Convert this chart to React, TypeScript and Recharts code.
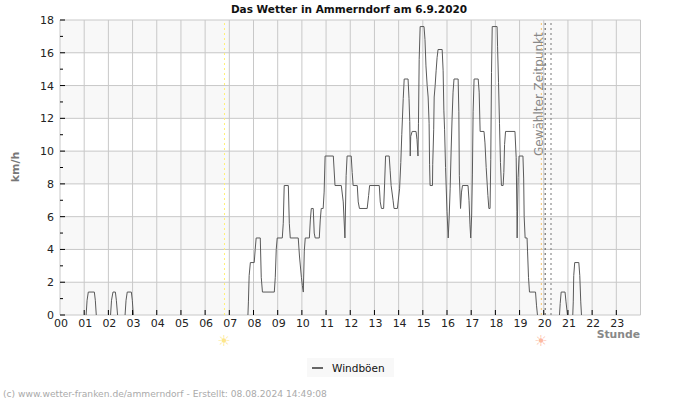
import * as React from "react";
import {
  CartesianGrid,
  Legend,
  Line,
  LineChart,
  ReferenceLine,
  XAxis,
  YAxis,
} from "recharts";

// gust readings by time of day, null splits the calm stretches
const gustHours = [
  1.08, 1.12, 1.17, 1.42, 1.46, 1.5, 1.8,
  2.09, 2.13, 2.19, 2.29, 2.33, 2.38, 2.5,
  2.69, 2.73, 2.78, 2.95, 2.99, 3.03, 5,
  7.77, 7.79, 7.82, 7.87, 8.03, 8.07, 8.11, 8.28, 8.32, 8.37, 8.86, 8.9, 8.94, 8.98,
  9.19, 9.23, 9.27, 9.44, 9.48, 9.52, 9.85, 9.9, 9.98, 10.02, 10.06, 10.1, 10.14,
  10.31, 10.35, 10.39, 10.47, 10.51, 10.55, 10.72, 10.76, 10.8, 10.88, 10.92, 10.96,
  11.3, 11.37, 11.63, 11.71, 11.78, 11.83, 11.87, 12.04, 12.08, 12.12, 12.29, 12.33, 12.38,
  12.7, 12.76, 12.8, 13.2, 13.24, 13.29, 13.38, 13.42, 13.46, 13.61, 13.65, 13.69, 13.77, 13.81,
  13.95, 14.0, 14.04, 14.09, 14.13, 14.19, 14.23, 14.39, 14.43, 14.46, 14.48, 14.5, 14.56,
  14.72, 14.76, 14.8, 14.82, 14.85, 14.89, 15.05, 15.09, 15.13, 15.18, 15.22, 15.26, 15.28, 15.3,
  15.4, 15.41, 15.45, 15.47, 15.51, 15.55, 15.59, 15.63, 15.8, 15.84, 15.87, 15.9, 15.94, 16.0, 16.05,
  16.09, 16.13, 16.17, 16.21, 16.25, 16.29, 16.46, 16.49, 16.51, 16.56, 16.6, 16.64,
  16.87, 16.91, 16.95, 16.98, 17.02, 17.05, 17.08, 17.12, 17.29, 17.33, 17.37,
  17.53, 17.57, 17.62, 17.69, 17.73, 17.78, 17.81, 17.84, 17.87, 18.07, 18.09, 18.13, 18.17, 18.21, 18.25,
  18.32, 18.35, 18.38, 18.42, 18.81, 18.86, 18.89, 18.9, 18.94, 18.98, 19.14, 19.17, 19.19, 19.23,
  19.31, 19.33, 19.37, 19.41, 19.66, 19.7, 19.74, 20.2,
  20.65, 20.68, 20.72, 20.88, 20.92, 20.98, 21.1,
  21.2, 21.22, 21.24, 21.28, 21.45, 21.49, 21.53, 21.56,
];
const gustValues = [
  0, 0.9, 1.4, 1.4, 0.9, 0, null,
  0, 0.9, 1.4, 1.4, 0.9, 0, null,
  0, 0.9, 1.4, 1.4, 0.9, 0, null,
  0, 0.8, 2.4, 3.2, 3.2, 4.0, 4.7, 4.7, 2.3, 1.4, 1.4, 2.3, 4.0, 4.7,
  4.7, 5.6, 7.9, 7.9, 5.6, 4.7, 4.7, 3.6, 2.3, 1.8, 1.4, 3.9, 4.7,
  4.7, 5.8, 6.5, 6.5, 5.0, 4.7, 4.7, 5.8, 6.5, 6.5, 7.5, 9.7,
  9.7, 7.9, 7.9, 6.9, 4.7, 8.5, 9.7, 9.7, 8.7, 7.9, 7.9, 6.9, 6.5,
  6.5, 7.3, 7.9, 7.9, 6.9, 6.5, 6.5, 8.0, 9.7, 9.7, 8.8, 7.9, 7.0, 6.5,
  6.5, 7.2, 7.7, 9.3, 11.0, 13.2, 14.4, 14.4, 13.2, 11.8, 9.7, 10.9, 11.2,
  11.2, 10.7, 9.7, 11.7, 15.6, 17.6, 17.6, 16.8, 15.2, 14.0, 13.3, 11.7, 9.2, 7.9,
  7.9, 9.2, 11.3, 13.3, 14.0, 14.9, 15.7, 16.2, 16.2, 14.9, 12.5, 11.3, 9.0, 6.3, 4.7,
  6.0, 7.7, 10.0, 12.0, 13.6, 14.4, 14.4, 12.4, 8.5, 6.5, 7.5, 7.9,
  7.9, 7.0, 5.5, 4.7, 6.1, 8.6, 12.4, 14.4, 14.4, 13.6, 11.2,
  11.2, 10.5, 9.0, 7.3, 6.5, 6.5, 9.5, 14.8, 17.6, 17.6, 16.4, 14.2, 11.7, 9.3, 7.9,
  7.9, 8.7, 10.4, 11.2, 11.2, 9.6, 6.3, 4.7, 8.4, 9.7, 9.7, 8.3, 6.0, 4.7,
  4.7, 3.9, 2.3, 1.4, 1.4, 0.6, 0, null,
  0, 0.7, 1.4, 1.4, 0.8, 0, null,
  0, 0.8, 2.4, 3.2, 3.2, 2.4, 0.8, 0,
];

const hourTicks = [0, 1, 2, 3, 4, 5, 6, 7, 8, 9, 10, 11, 12, 13, 14, 15, 16, 17, 18, 19, 20, 21, 22, 23];
const gridHours = [...hourTicks, 24];
const speedTicks = [0, 1, 2, 3, 4, 5, 6, 7, 8, 9, 10, 11, 12, 13, 14, 15, 16, 17, 18];
const gridSpeeds = [0, 2, 4, 6, 8, 10, 12, 14, 16, 18];

const sunrise = 6.8;
const sunset = 19.9;
const selectedFrom = 20.06;
const selectedTo = 20.3;

const tableData = gustHours.map((hour, i) => ({ hour, gust: gustValues[i] }));

const font = "'DejaVu Sans', sans-serif";

function HourTick({ x, y, payload }: any) {
  return (
    <g>
      {payload.value > 0 && <line x1={x} x2={x} y1={y - 5} y2={y} stroke="#000" />}
      <text x={x + 1} y={y + 12} textAnchor="middle" fontSize={11} fontFamily={font} fill="#222">
        {String(payload.value).padStart(2, "0")}
      </text>
    </g>
  );
}

function SpeedTick({ x, y, payload }: any) {
  const even = payload.value % 2 === 0;
  return (
    <g>
      <line x1={x} x2={x + (even ? 5 : 3)} y1={y} y2={y} stroke="#000" />
      {even && (
        <text x={x - 6} y={y + 4} textAnchor="end" fontSize={11} fontFamily={font} fill="#222">
          {payload.value}
        </text>
      )}
    </g>
  );
}

function GustLegend() {
  return (
    <div
      style={{
        display: "flex",
        alignItems: "center",
        width: 87,
        height: 19,
        background: "#f8f8f8",
        fontFamily: font,
        fontSize: 10.5,
        color: "#111",
      }}
    >
      <span style={{ width: 11, height: 2, background: "#666", margin: "0 9px 0 5px" }} />
      Windböen
    </div>
  );
}

export default function App() {
  return (
    <div style={{ position: "absolute", left: 0, top: 0, width: 700, height: 400, background: "#fff" }}>
      <LineChart
        width={700}
        height={400}
        data={tableData}
        margin={{ top: 20, right: 59.5, bottom: 46, left: 30 }}
      >
        <CartesianGrid
          stroke="#c8c8c8"
          strokeWidth={1}
          horizontalValues={gridSpeeds}
          verticalValues={gridHours}
          horizontalFill={["#f8f8f8", "#ffffff"]}
        />
        <XAxis
          dataKey="hour"
          type="number"
          domain={[0, 24]}
          ticks={hourTicks}
          interval={0}
          height={20}
          axisLine={false}
          tickLine={false}
          tickSize={0}
          tickMargin={0}
          tick={<HourTick />}
        />
        <YAxis
          type="number"
          domain={[0, 18]}
          ticks={speedTicks}
          interval={0}
          width={30}
          axisLine={false}
          tickLine={false}
          tickSize={0}
          tickMargin={0}
          tick={<SpeedTick />}
        />
        <ReferenceLine x={sunrise} stroke="#fff176" strokeDasharray="2 3" />
        <ReferenceLine x={sunset} stroke="#f5c26b" strokeDasharray="2 3" />
        <ReferenceLine x={selectedFrom} stroke="#555" strokeDasharray="2 3" />
        <ReferenceLine x={selectedTo} stroke="#777" strokeDasharray="2 3" />
        <Line
          dataKey="gust"
          name="Windböen"
          type="linear"
          stroke="#5a5a5a"
          strokeWidth={1}
          dot={false}
          connectNulls={false}
          isAnimationActive={false}
        />
        <Legend
          content={<GustLegend />}
          wrapperStyle={{ left: 307, top: 358, width: 87, height: 19, bottom: "auto" }}
        />
        <text x={349} y={13} textAnchor="middle" fontSize={10.5} fontWeight="bold" fontFamily={font} fill="#111">
          Das Wetter in Ammerndorf am 6.9.2020
        </text>
        <text
          transform="translate(19,167) rotate(-90)"
          textAnchor="middle"
          fontSize={11}
          fontWeight="bold"
          fontFamily={font}
          fill="#777"
        >
          km/h
        </text>
        <text x={640} y={338} textAnchor="end" fontSize={10.8} fontWeight="bold" fontFamily={font} fill="#888">
          Stunde
        </text>
        <text
          transform="translate(543,156) rotate(-90)"
          fontSize={12}
          fontFamily={font}
          fill="#888"
        >
          Gewählter Zeitpunkt
        </text>
        <text x={224} y={346} textAnchor="middle" fontSize={15} fontFamily={font} fill="#fde68a">
          ☀
        </text>
        <text x={541} y={346} textAnchor="middle" fontSize={15} fontFamily={font} fill="#fdb9a0">
          ☀
        </text>
        <text x={3} y={397} fontSize={9.15} fontFamily={font} fill="#aaa">
          (c) www.wetter-franken.de/ammerndorf - Erstellt: 08.08.2024 14:49:08
        </text>
      </LineChart>
    </div>
  );
}
